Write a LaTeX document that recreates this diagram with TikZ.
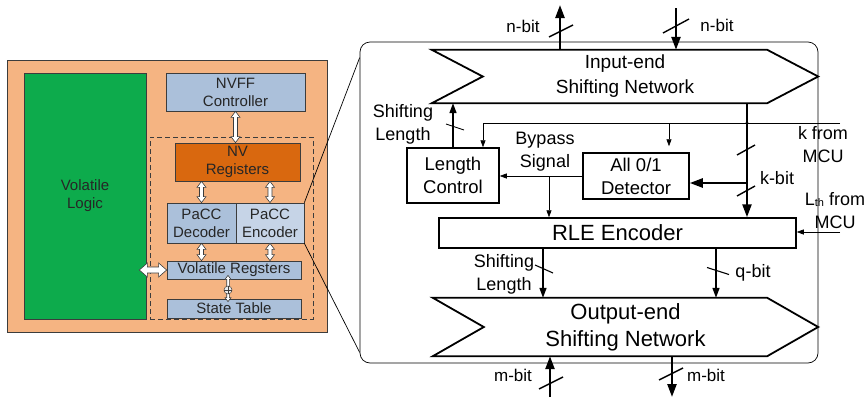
\documentclass[tikz,border=0pt]{standalone}
\usepackage{fontspec}
\setmainfont{Liberation Sans}
\usetikzlibrary{arrows.meta,calc}

\definecolor{chiporange}{HTML}{F5B482}
\definecolor{logicgreen}{HTML}{0DAB4C}
\definecolor{regblue}{HTML}{ABC0DA}
\definecolor{encblue}{HTML}{C6D4E7}
\definecolor{nvorange}{HTML}{D9680F}
\definecolor{edgegray}{HTML}{3C3C3C}
\definecolor{inkdark}{HTML}{262626}

\newcommand\lpfont{\fontsize{15}{18}\selectfont}
\newcommand\blockfont{\fontsize{18.5}{23}\selectfont}
\newcommand\netfontA{\fontsize{19}{25}\selectfont}
\newcommand\netfontB{\fontsize{22}{27}\selectfont}
\newcommand\lblfont{\fontsize{18}{23}\selectfont}
\newcommand\bitfont{\fontsize{17}{20}\selectfont}

% vertical two-headed hollow arrow: upper point, lower point,
% head half-width, shaft half-width, head length
\newcommand\hollowV[5]{%
  \filldraw[hollowarrow] let \p1=#1, \p2=#2 in
    (\x1,\y1) -- ({\x1+#3},{\y1-#5}) -- ({\x1+#4},{\y1-#5})
    -- ({\x1+#4},{\y2+#5}) -- ({\x1+#3},{\y2+#5}) -- (\x1,\y2)
    -- ({\x1-#3},{\y2+#5}) -- ({\x1-#4},{\y2+#5})
    -- ({\x1-#4},{\y1-#5}) -- ({\x1-#3},{\y1-#5}) -- cycle;}
% horizontal two-headed hollow arrow: left point, right point, same sizes
\newcommand\hollowH[5]{%
  \filldraw[hollowarrow] let \p1=#1, \p2=#2 in
    (\x1,\y1) -- ({\x1+#5},{\y1+#3}) -- ({\x1+#5},{\y1+#4})
    -- ({\x2-#5},{\y1+#4}) -- ({\x2-#5},{\y1+#3}) -- (\x2,\y1)
    -- ({\x2-#5},{\y1-#3}) -- ({\x2-#5},{\y1-#4})
    -- ({\x1+#5},{\y1-#4}) -- ({\x1+#5},{\y1-#3}) -- cycle;}

\tikzset{
  chipblock/.style={draw=edgegray, line width=0.7pt, inner sep=0pt,
    align=center, font=\lpfont, text=inkdark},
  hollowarrow/.style={draw=edgegray, line width=0.6pt, fill=white, line join=miter},
  thinwire/.style={line width=0.7pt},
  thinarrow/.style={thinwire, -{Triangle[length=7pt,width=5pt]}},
  busarrow/.style={line width=2.4pt, -{Triangle[length=13pt,width=9pt]}},
  midarrow/.style={line width=1.6pt, -{Triangle[length=10pt,width=7pt]}},
  busmark/.style={line width=1.4pt},
  markthin/.style={line width=0.8pt},
  logicbox/.style={draw, line width=1.5pt, inner sep=0pt, align=center, font=\blockfont},
  netshape/.style={line width=1.8pt, line join=miter},
  lbl/.style={font=\lblfont, align=center, inner sep=0pt},
  bitlbl/.style={font=\bitfont, inner sep=0pt},
}

\begin{document}
\begin{tikzpicture}[x=1pt,y=-1pt]
\useasboundingbox (0,0) rectangle (868,397);

% ---------------- chip overview ----------------
\node[chipblock, fill=chiporange, minimum width=320pt, minimum height=272pt] (chip) at (167,196) {};
\node[chipblock, fill=logicgreen, minimum width=122pt, minimum height=246pt] (logic) at (85,196) {Volatile\\Logic};
\node[chipblock, fill=regblue, minimum width=139pt, minimum height=38pt] (nvff) at (235.5,92) {NVFF\\Controller};
\node[draw=edgegray, line width=0.8pt, dash pattern=on 5pt off 3pt, minimum width=163pt, minimum height=182pt, inner sep=0] (pacc) at (231.5,228) {};
\node[chipblock, fill=nvorange, minimum width=125pt, minimum height=38pt] (nv) at (237.5,162) {NV\\Registers};
\node[chipblock, fill=regblue, minimum width=69pt, minimum height=40pt] (dec) at (201.5,223) {PaCC\\Decoder};
\node[chipblock, fill=encblue, minimum width=68pt, minimum height=40pt] (enc) at (270,223) {PaCC\\Encoder};
\node[chipblock, fill=regblue, minimum width=134pt, minimum height=18pt] (vreg) at (234,270) {Volatile Regsters};
\node[chipblock, fill=regblue, minimum width=134pt, minimum height=19pt] (state) at (234,308.5) {State Table};

\hollowV{(nvff.south)}{(nvff.south |- nv.north)}{4.5pt}{2pt}{6pt}
\hollowV{(nv.south -| dec.north)}{(dec.north)}{4.5pt}{2pt}{6pt}
\hollowV{(nv.south -| enc.north)}{(enc.north)}{4.5pt}{2pt}{6pt}
\hollowV{(dec.south)}{(dec.south |- vreg.north)}{4.5pt}{2pt}{6pt}
\hollowV{(enc.south)}{(enc.south |- vreg.north)}{4.5pt}{2pt}{6pt}
\hollowH{([xshift=-7pt]vreg.west -| logic.east)}{(vreg.west)}{7pt}{3pt}{8pt}
\coordinate (xorpt) at (228,290);
\hollowV{([yshift=4pt]vreg.south -| xorpt)}{([yshift=-3pt]state.north -| xorpt)}{3pt}{1.3pt}{4pt}
\node[draw=edgegray, fill=white!85!gray, line width=0.5pt, circle, minimum size=8pt, inner sep=0] (xor) at (xorpt) {};
\draw[edgegray, line width=0.5pt] (xor.north) -- (xor.south) (xor.west) -- (xor.east);

% ---------------- compression unit detail ----------------
\node[draw, line width=0.7pt, rounded corners=10pt, minimum width=458pt, minimum height=321pt, inner sep=0] (panel) at (589,202.5) {};
\draw[thinwire] (enc.north east) -- ([yshift=-16pt]panel.north west);
\draw[thinwire] (enc.south east) -- ([yshift=11pt]panel.south west);

% shifting networks
\node[minimum width=386pt, minimum height=53pt, inner sep=0, font=\netfontA, align=center] (inet) at (625,76.5) {Input-end\\Shifting Network};
\draw[netshape] (inet.north west) -- ([xshift=-51pt]inet.north east) -- (inet.east)
  -- ([xshift=-51pt]inet.south east) -- (inet.south west) -- ([xshift=51pt]inet.west) -- cycle;
\node[minimum width=385pt, minimum height=58pt, inner sep=0, font=\netfontB, align=center] (onet) at (625.5,327) {Output-end\\Shifting Network};
\draw[netshape] (onet.north west) -- ([xshift=-51pt]onet.north east) -- (onet.east)
  -- ([xshift=-51pt]onet.south east) -- (onet.south west) -- ([xshift=51pt]onet.west) -- cycle;

% logic blocks
\node[logicbox, minimum width=92pt, minimum height=55pt] (lc) at (453,175.5) {Length\\Control};
\node[logicbox, minimum width=106pt, minimum height=46pt] (det) at (636,176) {All 0/1\\Detector};
\node[logicbox, minimum width=357pt, minimum height=30pt, font=\netfontB] (rle) at (617.5,233) {RLE Encoder};

% external buses
\coordinate (nout) at (560,5);
\coordinate (nin) at (676,8);
\coordinate (min) at (550,397);
\coordinate (mout) at (672,397);
\draw[busarrow] (inet.north -| nout) -- (nout);
\draw[busarrow] (nin) -- (nin |- inet.north);
\draw[busarrow] (min) -- (min |- onet.south);
\draw[busarrow] (mout |- onet.south) -- (mout);

% k from MCU
\coordinate (kL) at (483,123);
\coordinate (kD) at (669,123);
\coordinate (kin) at (840,123);
\draw[thinwire] (kin) -- (kL);
\draw[thinarrow] (kL) -- (kL |- lc.north);
\draw[thinarrow, shorten >=6pt] (kD) -- (kD |- det.north);

% k-bit bus into the detector and the encoder
\coordinate (kbus) at (747,183);
\draw[busarrow] (inet.south -| kbus) -- (rle.north -| kbus);
\draw[busarrow] (kbus) -- (kbus -| det.east);
\fill (kbus |- kin) circle (1.6pt);

% bypass signal
\coordinate (bp) at (549,0);
\draw[thinarrow] (det.west) -- (det.west -| lc.east);
\draw[thinarrow] (bp |- det.west) -- (bp |- rle.north);

% shifting length back to the input network
\draw[midarrow] (lc.north) -- (lc.north |- inet.south);

% L_th from MCU
\coordinate (lin) at (840,232);
\draw[thinarrow] (lin) -- (lin -| rle.east);

% encoder outputs
\coordinate (slo) at (543,0);
\coordinate (qo) at (716,0);
\draw[midarrow] (rle.south -| slo) -- (onet.north -| slo);
\draw[midarrow] (rle.south -| qo) -- (onet.north -| qo);

% bus width marks
\coordinate (c1) at (561,31);
\coordinate (c2) at (676,26);
\coordinate (c3) at (455,127);
\coordinate (c4) at (746,150);
\coordinate (c5) at (746,191);
\coordinate (c6) at (544,269);
\coordinate (c7) at (718,271);
\coordinate (c8) at (551,383);
\coordinate (c9) at (671,374);
\draw[busmark] ([shift={(-12pt,-6pt)}]c1) -- ([shift={(12pt,6pt)}]c1);
\draw[busmark] ([shift={(-13pt,-7pt)}]c2) -- ([shift={(13pt,7pt)}]c2);
\draw[markthin] ([shift={(-9pt,3pt)}]c3) -- ([shift={(9pt,-3pt)}]c3);
\draw[busmark] ([shift={(-9pt,-5pt)}]c4) -- ([shift={(9pt,5pt)}]c4);
\draw[busmark] ([shift={(-9pt,-5pt)}]c5) -- ([shift={(9pt,5pt)}]c5);
\draw[markthin, line width=1.1pt] ([shift={(-9pt,4pt)}]c6) -- ([shift={(9pt,-4pt)}]c6);
\draw[markthin, line width=1.1pt] ([shift={(-11pt,3.5pt)}]c7) -- ([shift={(11pt,-3.5pt)}]c7);
\draw[busmark] ([shift={(-12pt,-6pt)}]c8) -- ([shift={(12pt,6pt)}]c8);
\draw[busmark] ([shift={(-12pt,-6pt)}]c9) -- ([shift={(12pt,6pt)}]c9);

% labels
\node[bitlbl] (lnout) at (523,26) {n-bit};
\node[bitlbl] (lnin) at (717,25) {n-bit};
\node[bitlbl] (lmin) at (513,375) {m-bit};
\node[bitlbl] (lmout) at (706,375) {m-bit};
\node[lbl] (lsl1) at (403,124) {Shifting\\Length};
\node[lbl] (lbp) at (545,152) {Bypass\\Signal};
\node[lbl] (lk) at (823,145) {k from\\MCU};
\node[lbl] (lkb) at (777,178) {k-bit};
\node[lbl] (llth) at (835,211) {L\raisebox{-0.5pt}{\fontsize{11}{11}\selectfont th} from\\MCU};
\node[lbl] (lsl2) at (504,274) {Shifting\\Length};
\node[lbl] (lq) at (753,273) {q-bit};
\end{tikzpicture}
\end{document}
